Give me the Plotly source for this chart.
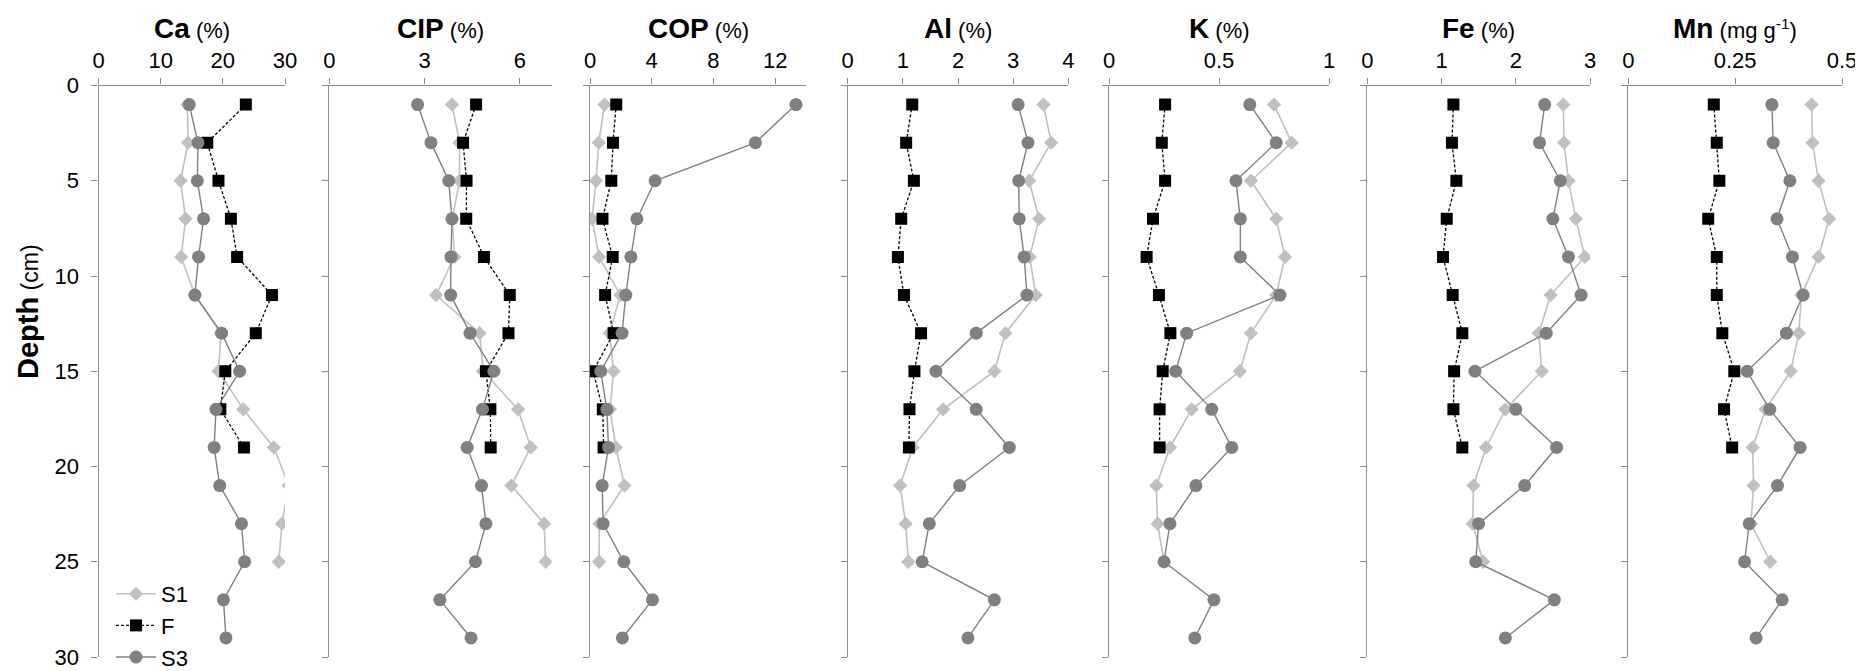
import plotly.graph_objects as go

# page body has an 8px margin; figure sized to fill the rest of the window
OFF = 8
W, H = 1863 - OFF, 671 - OFF

depth_S1 = [1, 3, 5, 7, 9, 11, 13, 15, 17, 19, 21, 23, 25]
depth_F = [1, 3, 5, 7, 9, 11, 13, 15, 17, 19]
depth_S3 = [1, 3, 5, 7, 9, 11, 13, 15, 17, 19, 21, 23, 25, 27, 29]

Ca_S1 = [14.3, 14.4, 13.2, 14.0, 13.3, 15.5, 19.7, 19.3, 23.3, 28.2, 30.6, 29.5, 29.0]
Ca_F = [23.7, 17.5, 19.3, 21.3, 22.3, 27.9, 25.3, 20.4, 19.6, 23.4]
Ca_S3 = [14.6, 16.0, 15.9, 16.9, 16.1, 15.5, 19.8, 22.7, 18.9, 18.6, 19.5, 23.0, 23.5, 20.1, 20.5]

CIP_S1 = [3.86, 4.1, 4.1, 3.87, 3.94, 3.36, 4.73, 4.84, 5.94, 6.34, 5.73, 6.76, 6.81]
CIP_F = [4.62, 4.21, 4.32, 4.31, 4.87, 5.68, 5.64, 4.93, 5.07, 5.08]
CIP_S3 = [2.78, 3.2, 3.76, 3.86, 3.83, 3.82, 4.43, 5.18, 4.82, 4.34, 4.79, 4.93, 4.6, 3.48, 4.46]

COP_S1 = [0.94, 0.57, 0.39, 0.13, 0.59, 1.97, 1.27, 1.53, 1.3, 1.68, 2.23, 0.61, 0.59]
COP_F = [1.7, 1.49, 1.38, 0.81, 1.47, 0.98, 1.53, 0.2, 0.83, 0.88]
COP_S3 = [13.35, 10.72, 4.22, 3.04, 2.65, 2.32, 2.08, 0.7, 1.09, 1.2, 0.79, 0.85, 2.19, 4.05, 2.1]

Al_S1 = [3.55, 3.69, 3.29, 3.47, 3.3, 3.41, 2.86, 2.66, 1.73, 1.18, 0.95, 1.05, 1.1]
Al_F = [1.17, 1.06, 1.2, 0.97, 0.91, 1.02, 1.33, 1.21, 1.12, 1.11]
Al_S3 = [3.09, 3.27, 3.1, 3.11, 3.2, 3.25, 2.33, 1.6, 2.33, 2.93, 2.03, 1.48, 1.35, 2.66, 2.18]

K_S1 = [0.75, 0.83, 0.645, 0.76, 0.8, 0.76, 0.645, 0.595, 0.376, 0.277, 0.215, 0.221, 0.25]
K_F = [0.255, 0.24, 0.255, 0.2, 0.171, 0.227, 0.279, 0.244, 0.23, 0.23]
K_S3 = [0.64, 0.76, 0.577, 0.597, 0.597, 0.777, 0.353, 0.303, 0.467, 0.558, 0.395, 0.277, 0.25, 0.477, 0.39]

Fe_S1 = [2.64, 2.65, 2.71, 2.81, 2.93, 2.47, 2.31, 2.35, 1.86, 1.6, 1.43, 1.42, 1.56]
Fe_F = [1.16, 1.14, 1.2, 1.07, 1.02, 1.15, 1.28, 1.17, 1.16, 1.28]
Fe_S3 = [2.39, 2.32, 2.6, 2.5, 2.71, 2.88, 2.41, 1.45, 2.0, 2.55, 2.12, 1.5, 1.46, 2.52, 1.86]

Mn_S1 = [0.429, 0.431, 0.445, 0.47, 0.445, 0.405, 0.399, 0.38, 0.321, 0.291, 0.293, 0.287, 0.332]
Mn_F = [0.2, 0.207, 0.213, 0.187, 0.207, 0.207, 0.22, 0.248, 0.224, 0.243]
Mn_S3 = [0.336, 0.339, 0.378, 0.348, 0.384, 0.409, 0.37, 0.278, 0.331, 0.402, 0.349, 0.283, 0.272, 0.36, 0.299]

panel_names = ["Ca", "CIP", "COP", "Al", "K", "Fe", "Mn"]
panel_units = ["(%)", "(%)", "(%)", "(%)", "(%)", "(%)", "(mg g<sup>-1</sup>)"]
x_ranges = [[0, 30], [0, 7], [0, 14], [0, 4], [0, 1], [0, 3], [0, 0.5]]
x_tickvals = [[0, 10, 20, 30], [0, 3, 6], [0, 4, 8, 12], [0, 1, 2, 3, 4],
              [0, 0.5, 1], [0, 1, 2, 3], [0, 0.25, 0.5]]
x_ticktext = [["0", "10", "20", "30"], ["0", "3", "6"], ["0", "4", "8", "12"],
              ["0", "1", "2", "3", "4"], ["0", "0.5", "1"], ["0", "1", "2", "3"],
              ["0", "0.25", "0.5"]]
depth_ticks = [0, 5, 10, 15, 20, 25, 30]

panels_S1 = [Ca_S1, CIP_S1, COP_S1, Al_S1, K_S1, Fe_S1, Mn_S1]
panels_F = [Ca_F, CIP_F, COP_F, Al_F, K_F, Fe_F, Mn_F]
panels_S3 = [Ca_S3, CIP_S3, COP_S3, Al_S3, K_S3, Fe_S3, Mn_S3]

# panel extents in window pixels (left, right)
px_dom = [(98.5, 285), (329.3, 551.7), (590, 806), (847.7, 1068.3),
          (1109, 1329), (1367.3, 1590), (1628.3, 1842)]
y_top_px, y_bot_px = 85.5, 657


def fx(px):
    return (px - OFF) / W


def fy(px):
    return 1 - (px - OFF) / H


FONT = "Liberation Sans, Arial, sans-serif"
AXC = "#8c8c8c"
C_S1 = "#c0c0c0"
C_S3 = "#808080"

fig = go.Figure()
layout = {}
for i in range(7):
    n = "" if i == 0 else str(i + 1)
    xa, ya = "x" + n, "y" + n
    show = i == 0
    fig.add_trace(go.Scatter(x=panels_S1[i], y=depth_S1, xaxis=xa, yaxis=ya, name="S1",
                             legendgroup="S1", showlegend=show, mode="lines+markers",
                             line=dict(color=C_S1, width=1.6),
                             marker=dict(symbol="diamond", size=11, color=C_S1)))
    fig.add_trace(go.Scatter(x=panels_F[i], y=depth_F, xaxis=xa, yaxis=ya, name="F",
                             legendgroup="F", showlegend=show, mode="lines+markers",
                             line=dict(color="black", width=1.3, dash="3px,2px"),
                             marker=dict(symbol="square", size=12, color="black")))
    fig.add_trace(go.Scatter(x=panels_S3[i], y=depth_S3, xaxis=xa, yaxis=ya, name="S3",
                             legendgroup="S3", showlegend=show, mode="lines+markers",
                             line=dict(color=C_S3, width=1.4),
                             marker=dict(symbol="circle", size=13, color=C_S3)))
    l, r = px_dom[i]
    layout["xaxis" + n] = dict(domain=[fx(l), fx(r)], range=x_ranges[i], side="top",
                               anchor=ya, tickvals=x_tickvals[i], ticktext=x_ticktext[i],
                               showline=True, linecolor=AXC, linewidth=1.3, automargin=False,
                               ticks="outside", ticklen=6, tickcolor=AXC, tickwidth=1.3,
                               ticklabelstandoff=2,
                               showgrid=False, zeroline=False,
                               tickfont=dict(size=22, color="black", family=FONT))
    layout["yaxis" + n] = dict(domain=[fy(y_bot_px), fy(y_top_px)], range=[30, 0],
                               anchor=xa, tickvals=depth_ticks, showticklabels=show,
                               showline=True, linecolor=AXC, linewidth=1.3, automargin=False,
                               ticks="outside", ticklen=6, tickcolor=AXC, tickwidth=1.3,
                               ticklabelstandoff=8,
                               showgrid=False, zeroline=False,
                               tickfont=dict(size=22, color="black", family=FONT))

annotations = []
for i in range(7):
    l, r = px_dom[i]
    annotations.append(dict(x=fx((l + r) / 2), y=fy(28), xref="paper", yref="paper",
                            text="<span style='font-size:28px;font-weight:bold'>" + panel_names[i]
                                 + "</span> " + panel_units[i],
                            showarrow=False, xanchor="center", yanchor="middle",
                            font=dict(size=22, color="black", family=FONT)))
annotations.append(dict(x=fx(28), y=fy(312), xref="paper", yref="paper",
                        text="<span style='font-size:29px;font-weight:bold'>Depth</span> (cm)",
                        textangle=-90,
                        showarrow=False, xanchor="center", yanchor="middle",
                        font=dict(size=23, color="black", family=FONT)))

fig.update_layout(**layout)
fig.update_layout(
    width=W, height=H, autosize=False,
    margin=dict(l=0, r=0, t=0, b=0, autoexpand=False),
    paper_bgcolor="white", plot_bgcolor="white",
    font=dict(family=FONT, color="black"),
    annotations=annotations,
    legend=dict(x=fx(111), y=fy(573), xanchor="left", yanchor="top",
                bgcolor="rgba(0,0,0,0)", font=dict(size=22, family=FONT, color="black"),
                itemwidth=40, tracegroupgap=0, traceorder="normal"),
)

fig.write_html("out.html")
